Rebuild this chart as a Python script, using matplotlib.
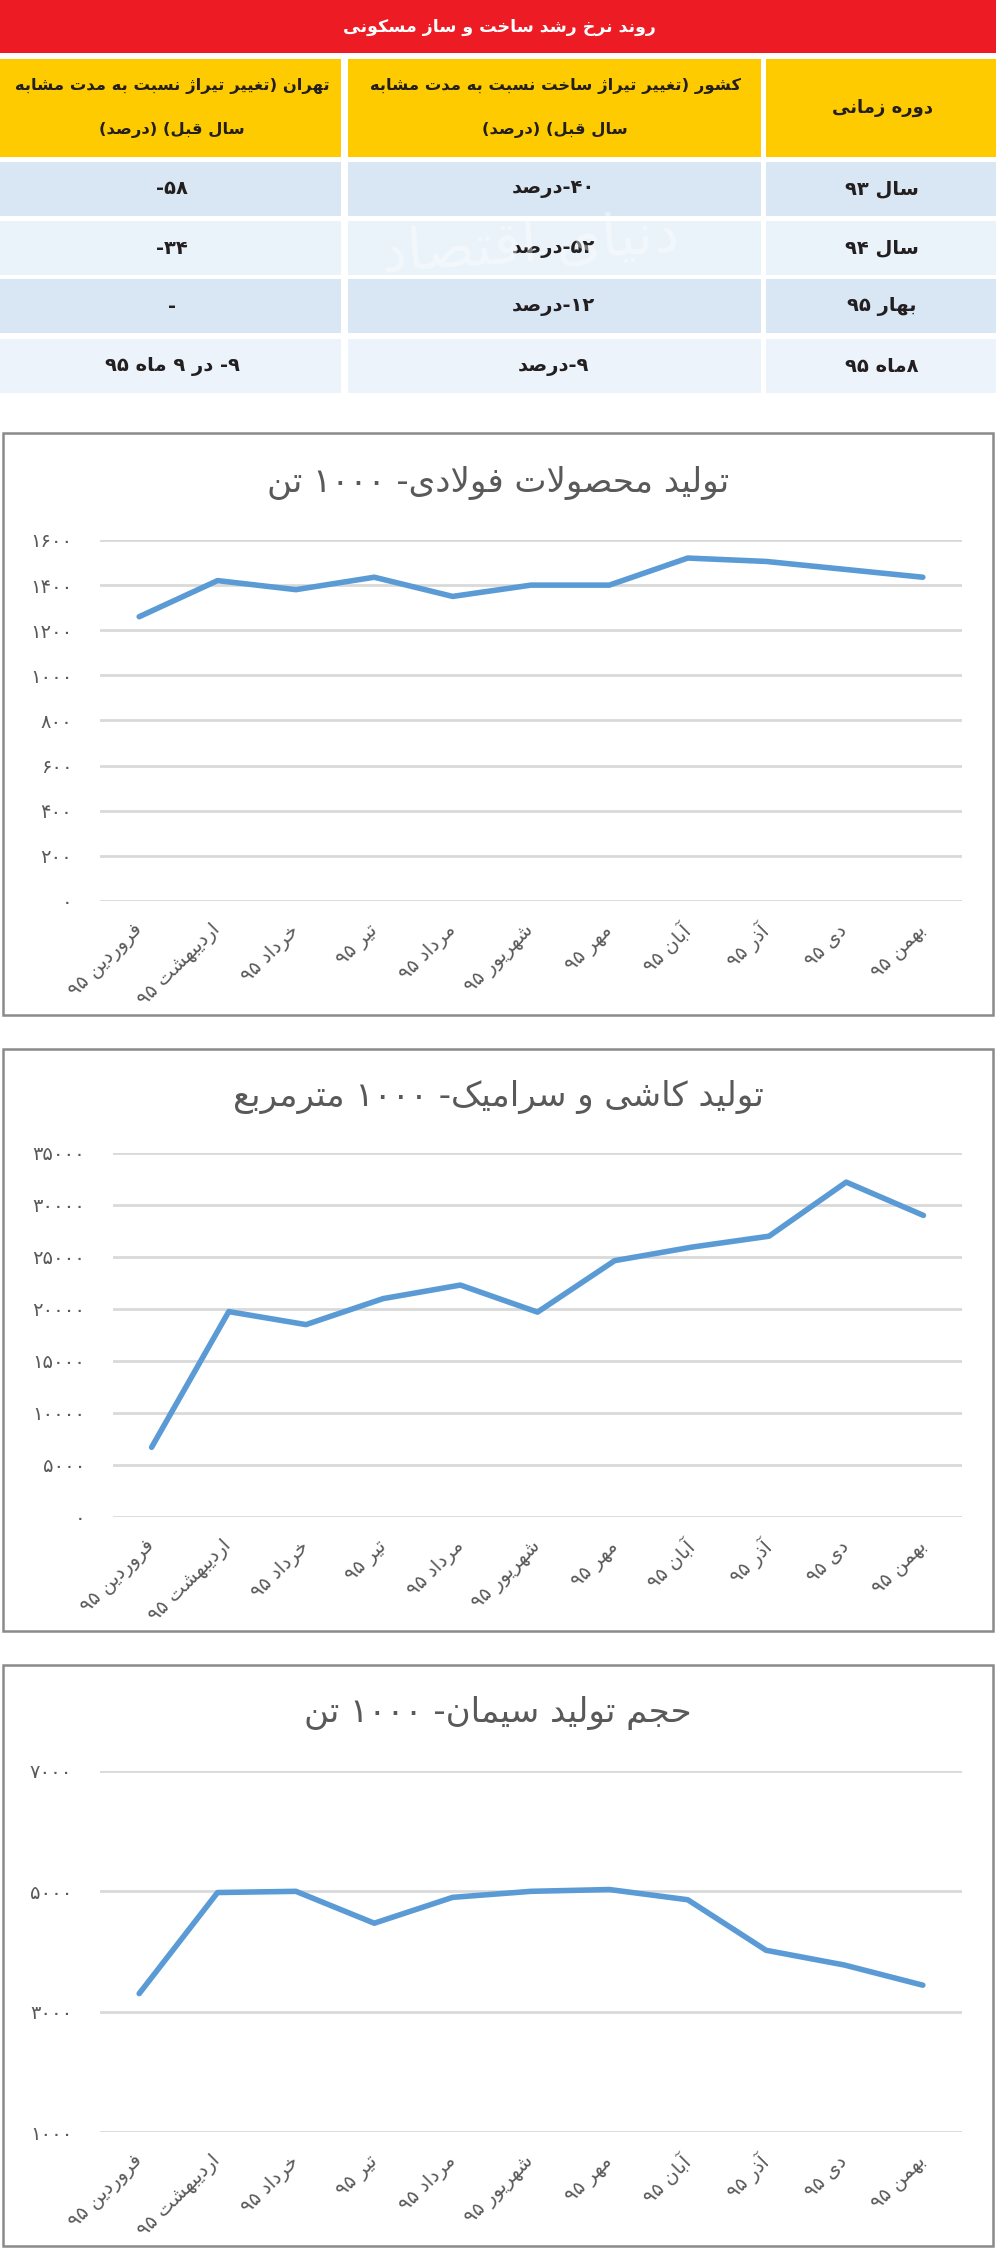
import matplotlib
matplotlib.use('Agg')
import matplotlib.pyplot as plt
from matplotlib.patches import Rectangle
from matplotlib.ticker import FixedLocator, FuncFormatter

plt.rcParams['font.family'] = ['DejaVu Sans']

# ---- data ----
BANNER = 'روند نرخ رشد ساخت و ساز مسکونی'
HEAD_PERIOD = 'دوره زمانی'
HEAD_COUNTRY = ['کشور (تغییر تیراژ ساخت نسبت به مدت مشابه', 'سال قبل) (درصد)']
HEAD_TEHRAN = ['تهران (تغییر تیراژ نسبت به مدت مشابه', 'سال قبل) (درصد)']
PERIODS = ['سال ۹۳', 'سال ۹۴', 'بهار ۹۵', '۸ماه ۹۵']
COUNTRY = ['۴۰-درصد', '۵۲-درصد', '۱۲-درصد', '۹-درصد']
TEHRAN = ['۵۸-', '۳۴-', '-', '۹- در ۹ ماه ۹۵']

MONTHS = ['فروردین', 'اردیبهشت', 'خرداد', 'تیر', 'مرداد', 'شهریور',
          'مهر', 'آبان', 'آذر', 'دی', 'بهمن']
YEAR = '۹۵'

STEEL_TITLE = 'تولید محصولات فولادی- ۱۰۰۰ تن'
STEEL = [1260, 1420, 1380, 1435, 1350, 1400, 1400, 1520, 1505, 1470, 1435]
STEEL_TICKS = [0, 200, 400, 600, 800, 1000, 1200, 1400, 1600]

TILE_TITLE = 'تولید کاشی و سرامیک- ۱۰۰۰ مترمربع'
TILE = [6700, 19750, 18500, 21000, 22300, 19700, 24650, 25950, 27000, 32200, 29000]
TILE_TICKS = [0, 5000, 10000, 15000, 20000, 25000, 30000, 35000]

CEMENT_TITLE = 'حجم تولید سیمان- ۱۰۰۰ تن'
CEMENT = [3300, 4980, 5000, 4470, 4900, 5000, 5030, 4860, 4020, 3775, 3440]
CEMENT_TICKS = [1000, 3000, 5000, 7000]

# ---- minimal Persian shaping (matplotlib has no RTL layout) ----
BASE = {
    'آ': (0xFE81, 'R'), 'ا': (0xFE8D, 'R'), 'ب': (0xFE8F, 'D'), 'ت': (0xFE95, 'D'),
    'ث': (0xFE99, 'D'), 'ج': (0xFE9D, 'D'), 'ح': (0xFEA1, 'D'), 'خ': (0xFEA5, 'D'),
    'د': (0xFEA9, 'R'), 'ذ': (0xFEAB, 'R'), 'ر': (0xFEAD, 'R'), 'ز': (0xFEAF, 'R'),
    'س': (0xFEB1, 'D'), 'ش': (0xFEB5, 'D'), 'ص': (0xFEB9, 'D'), 'ض': (0xFEBD, 'D'),
    'ط': (0xFEC1, 'D'), 'ظ': (0xFEC5, 'D'), 'ع': (0xFEC9, 'D'), 'غ': (0xFECD, 'D'),
    'ف': (0xFED1, 'D'), 'ق': (0xFED5, 'D'), 'ل': (0xFEDD, 'D'), 'م': (0xFEE1, 'D'),
    'ن': (0xFEE5, 'D'), 'ه': (0xFEE9, 'D'), 'و': (0xFEED, 'R'), 'ی': (0xFBFC, 'D'),
    'پ': (0xFB56, 'D'), 'چ': (0xFB7A, 'D'), 'ژ': (0xFB8A, 'R'), 'ک': (0xFB8E, 'D'),
    'گ': (0xFB92, 'D'), 'لا': (0xFEFB, 'R'), 'لآ': (0xFEF5, 'R'),
}
DIGITS = '0123456789۰۱۲۳۴۵۶۷۸۹'


def shape(s):
    toks = []
    i = 0
    while i < len(s):
        if s[i] == 'ل' and i + 1 < len(s) and s[i + 1] in 'اآ':
            toks.append(s[i:i + 2])
            i += 2
        else:
            toks.append(s[i])
            i += 1
    jt = [BASE[t][1] if t in BASE else None for t in toks]
    out = []
    for k, t in enumerate(toks):
        if jt[k] is None:
            out.append(t)
            continue
        cp = k > 0 and jt[k - 1] == 'D'
        cn = jt[k] == 'D' and k + 1 < len(toks) and jt[k + 1] is not None
        base = BASE[t][0]
        if jt[k] == 'R':
            out.append(chr(base + (1 if cp else 0)))
        else:
            out.append(chr(base + (3 if cp and cn else 1 if cp else 2 if cn else 0)))
    return out


def rtl(s):
    chars = shape(s)
    runs = []
    for c in chars:
        if c in DIGITS and runs and runs[-1][0] in DIGITS:
            runs[-1] += c
        else:
            runs.append(c)
    mirror = {'(': ')', ')': '('}
    return ''.join(mirror.get(r, r) for r in reversed(runs))


def fa(n):
    return str(n).translate(str.maketrans('0123456789', '۰۱۲۳۴۵۶۷۸۹'))


W, H = 996, 2248
fig = plt.figure(figsize=(W / 100, H / 100), dpi=100)
bg = fig.add_axes([0, 0, 1, 1])
bg.set_xlim(0, W)
bg.set_ylim(H, 0)
bg.axis('off')

# ---- table ----
DARK = '#231f20'
bg.add_patch(Rectangle((0, 0), W, 53, color='#ed1c24', lw=0))
bg.text(499, 27, rtl(BANNER), color='white', fontsize=12.5, fontweight='bold',
        ha='center', va='center')

cols = [(766, 996), (348, 761), (0, 341)]   # right to left
for x0, x1 in cols:
    bg.add_patch(Rectangle((x0, 59), x1 - x0, 98, color='#fecb00', lw=0))
bg.text(882, 108, rtl(HEAD_PERIOD), color=DARK, fontsize=13, fontweight='bold',
        ha='center', va='center')
for j, line in enumerate(HEAD_COUNTRY):
    bg.text(555, 86 + 44 * j, rtl(line), color=DARK, fontsize=11.8, fontweight='bold',
            ha='center', va='center')
for j, line in enumerate(HEAD_TEHRAN):
    bg.text(172, 86 + 44 * j, rtl(line), color=DARK, fontsize=11.8, fontweight='bold',
            ha='center', va='center')

row_tops = [162, 221, 279, 339]
row_colors = ['#d9e7f5', '#eaf2fa', '#d9e7f5', '#ecf3fb']
for i, y0 in enumerate(row_tops):
    for x0, x1 in cols:
        bg.add_patch(Rectangle((x0, y0), x1 - x0, 54, color=row_colors[i], lw=0))
    yc = y0 + 27
    for xc, txt in zip([882, 553, 172], [PERIODS[i], COUNTRY[i], TEHRAN[i]]):
        bg.text(xc, yc, rtl(txt), color=DARK, fontsize=14, fontweight='bold',
                ha='center', va='center')

# faint watermark
bg.text(530, 245, rtl('دنیای اقتصاد'), color='white', alpha=0.4, fontsize=42,
        ha='center', va='center', rotation=4)

# ---- charts ----
GRID = '#d9d9d9'
TXT = '#595959'
BLUE = '#5b9bd5'

charts = [
    dict(title=STEEL_TITLE, vals=STEEL, ticks=STEEL_TICKS, frame=(433, 1015),
         title_y=483, ax=(100, 962, 540, 901)),
    dict(title=TILE_TITLE, vals=TILE, ticks=TILE_TICKS, frame=(1049, 1631),
         title_y=1097, ax=(113, 962, 1153, 1517)),
    dict(title=CEMENT_TITLE, vals=CEMENT, ticks=CEMENT_TICKS, frame=(1665, 2246),
         title_y=1713, ax=(100, 962, 1771, 2132)),
]

labels = [rtl(f'{m} {YEAR}') for m in MONTHS]

for c in charts:
    f0, f1 = c['frame']
    bg.add_patch(Rectangle((3, f0), 990, f1 - f0, fill=False, edgecolor='#8a8a8a', lw=1.8))
    bg.text(498, c['title_y'], rtl(c['title']), color=TXT, fontsize=24.5,
            ha='center', va='center')

    x0, x1, y0, y1 = c['ax']
    ax = fig.add_axes([x0 / W, 1 - y1 / H, (x1 - x0) / W, (y1 - y0) / H])
    ax.set_facecolor('none')
    xs = list(range(len(c['vals'])))
    ax.plot(xs, c['vals'], color=BLUE, lw=4, solid_joinstyle='round',
            solid_capstyle='round', zorder=3)
    ax.set_xlim(-0.5, len(xs) - 0.5)
    ax.set_ylim(c['ticks'][0], c['ticks'][-1])
    ax.yaxis.set_major_locator(FixedLocator(c['ticks']))
    ax.yaxis.set_major_formatter(FuncFormatter(lambda v, _: fa(int(v))))
    ax.yaxis.grid(True, color=GRID, lw=2)
    ax.set_axisbelow(True)
    for s in ax.spines.values():
        s.set_visible(False)
    ax.set_xticks(xs)
    ax.set_xticklabels(labels, rotation=45, ha='right', va='center',
                       rotation_mode='anchor', color=TXT, fontsize=14)
    ax.tick_params(axis='x', length=0, pad=19)
    ax.tick_params(axis='y', length=0, pad=20, labelcolor=TXT, labelsize=14)

fig.savefig('out.png', dpi=100)
